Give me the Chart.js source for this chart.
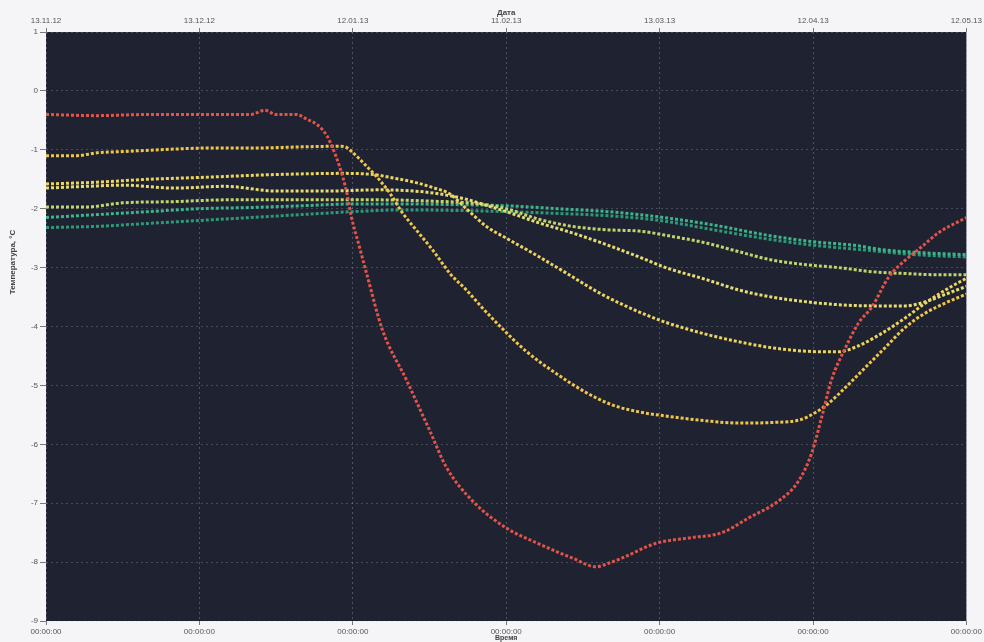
<!DOCTYPE html>
<html>
<head>
<meta charset="utf-8">
<title>Температура</title>
<script src="https://cdn.jsdelivr.net/npm/chart.js@4.4.1/dist/chart.umd.min.js"></script>
<style>
  html, body { margin: 0; padding: 0; background: #f5f5f7; }
  canvas { display: block; }
</style>
</head>
<body>
<canvas id="chart" width="984" height="642"></canvas>
<script>
// Tick labels (one every 30 days)
const dateTicks = ['13.11.12', '13.12.12', '12.01.13', '11.02.13', '13.03.13', '12.04.13', '12.05.13'];
const timeTicks = ['00:00:00', '00:00:00', '00:00:00', '00:00:00', '00:00:00', '00:00:00', '00:00:00'];

// Days since 13.11.12 and temperature readings, °C
const redDays = [0, 10, 20, 30, 40, 42.8, 45, 49, 51, 53, 55, 56, 57.4, 58.8, 59.7, 61.3, 62.7, 65.8, 70.5, 75, 78.3, 83.4, 90, 96.4, 102.9, 107.6, 110, 112.7, 119.3, 125.7, 132.2, 137.4, 143.3, 147.2, 149.7, 151.7, 153.6, 156.4, 158.9, 161.5, 164.8, 168.1, 171.2, 174.5, 180];
const redTemps = [-0.40, -0.42, -0.40, -0.40, -0.40, -0.33, -0.40, -0.40, -0.48, -0.57, -0.77, -0.96, -1.28, -1.72, -2.13, -2.65, -3.10, -4.06, -4.91, -5.76, -6.39, -6.96, -7.42, -7.69, -7.93, -8.08, -8.02, -7.93, -7.68, -7.59, -7.50, -7.25, -6.96, -6.62, -6.16, -5.54, -4.91, -4.35, -3.94, -3.67, -3.16, -2.87, -2.65, -2.41, -2.15];

const aDays = [0, 6, 10, 15, 22, 32, 40, 50, 57, 58.5, 59.9, 62.7, 64.6, 67.2, 69.7, 72.4, 75.6, 79.2, 82.2, 85.3, 88.6, 93.9, 99.8, 105.6, 110.7, 116, 121.2, 129, 135.5, 141.9, 147.2, 150.5, 153.1, 156.4, 160.3, 164.2, 168.1, 172, 175.9, 180];
const aTemps = [-1.10, -1.10, -1.05, -1.03, -1.00, -0.97, -0.97, -0.95, -0.94, -0.95, -1.04, -1.28, -1.45, -1.73, -2.07, -2.36, -2.70, -3.12, -3.38, -3.68, -3.98, -4.42, -4.80, -5.12, -5.33, -5.45, -5.52, -5.60, -5.64, -5.63, -5.59, -5.46, -5.30, -5.03, -4.69, -4.35, -4.01, -3.77, -3.60, -3.45];

const bDays = [0, 10, 20, 30, 45, 58, 64, 68, 72, 76, 79, 82.2, 86.1, 90, 95.1, 101.7, 108.2, 114.6, 121.2, 125.7, 129, 135.5, 141.9, 148.6, 155, 158.3, 162.8, 168.1, 172, 175.9, 180];
const bTemps = [-1.58, -1.55, -1.50, -1.47, -1.42, -1.40, -1.42, -1.48, -1.55, -1.65, -1.75, -2.00, -2.30, -2.50, -2.75, -3.09, -3.43, -3.70, -3.93, -4.05, -4.13, -4.26, -4.36, -4.42, -4.43, -4.35, -4.15, -3.85, -3.60, -3.38, -3.18];

const cDays = [0, 8, 15, 25, 35, 45, 55, 65, 72, 77, 82.2, 86.7, 90, 96.4, 102.9, 109.6, 116, 121.2, 129, 135.5, 141.9, 148.6, 155, 161.5, 168.1, 172, 176, 180];
const cTemps = [-1.65, -1.62, -1.60, -1.65, -1.62, -1.70, -1.70, -1.68, -1.70, -1.75, -1.84, -1.96, -2.05, -2.24, -2.41, -2.61, -2.82, -3.00, -3.20, -3.38, -3.50, -3.58, -3.63, -3.65, -3.65, -3.58, -3.45, -3.32];

const dDays = [0, 8, 15, 25, 35, 45, 55, 65, 75, 85, 90, 96.4, 102.9, 110, 116, 122.4, 129, 135.5, 141.9, 148.6, 155, 161.5, 168, 174, 180];
const dTemps = [-1.97, -1.97, -1.90, -1.88, -1.85, -1.85, -1.85, -1.85, -1.87, -1.92, -2.00, -2.18, -2.30, -2.36, -2.38, -2.47, -2.58, -2.73, -2.87, -2.95, -3.00, -3.07, -3.10, -3.12, -3.12];

const g1Days = [0, 10, 20, 30, 40, 50, 60, 70, 80, 90, 100, 110, 116, 125, 132, 141, 150, 158, 164, 172, 180];
const g1Temps = [-2.15, -2.10, -2.05, -2.00, -1.98, -1.95, -1.92, -1.92, -1.93, -1.95, -2.00, -2.05, -2.10, -2.20, -2.30, -2.45, -2.56, -2.62, -2.70, -2.75, -2.78];

const g2Days = [0, 10, 20, 30, 40, 50, 60, 70, 80, 90, 100, 110, 120, 130, 140, 150, 160, 170, 180];
const g2Temps = [-2.32, -2.30, -2.25, -2.20, -2.15, -2.10, -2.05, -2.02, -2.03, -2.05, -2.08, -2.12, -2.20, -2.35, -2.50, -2.62, -2.70, -2.78, -2.82];

function toPoints(days, temps) {
  return days.map((d, i) => ({ x: d, y: temps[i] }));
}

// dotted "logger" look: short dashes of thick line
function series(label, days, temps, color) {
  return {
    label,
    data: toPoints(days, temps),
    borderColor: color,
    borderWidth: 3,
    borderDash: [3, 2],
    pointRadius: 0,
    cubicInterpolationMode: 'monotone',
    fill: false
  };
}

// page + dark plot background, and the y title
const backdrop = {
  id: 'backdrop',
  beforeDraw(chart) {
    const { ctx, chartArea: a } = chart;
    ctx.save();
    ctx.fillStyle = '#f5f5f7';
    ctx.fillRect(0, 0, chart.width, chart.height);
    ctx.fillStyle = '#1f2230';
    ctx.fillRect(a.left, a.top, a.right - a.left, a.bottom - a.top);
    ctx.restore();
  },
  afterDraw(chart) {
    const ctx = chart.ctx;
    ctx.save();
    ctx.translate(13, 262);
    ctx.rotate(-Math.PI / 2);
    ctx.font = 'bold 8px "Liberation Sans", Arial, sans-serif';
    ctx.fillStyle = '#444';
    ctx.textAlign = 'center';
    ctx.textBaseline = 'middle';
    ctx.fillText('Температура, °C', 0, 0);
    ctx.restore();
  }
};

const tickFont = { family: '"Liberation Sans", Arial, sans-serif', size: 8 };
const titleFont = { family: '"Liberation Sans", Arial, sans-serif', size: 8, weight: 'bold' };

new Chart(document.getElementById('chart'), {
  type: 'line',
  data: {
    datasets: [
      series('red', redDays, redTemps, '#e2544a'),
      series('a', aDays, aTemps, '#f0c64a'),
      series('b', bDays, bTemps, '#ecd45e'),
      series('c', cDays, cTemps, '#e6dc72'),
      series('d', dDays, dTemps, '#c4d46c'),
      series('g1', g1Days, g1Temps, '#3db48a'),
      series('g2', g2Days, g2Temps, '#2c9a78')
    ]
  },
  options: {
    responsive: false,
    animation: false,
    layout: { padding: { left: 0, right: 16, top: 0, bottom: 0 } },
    plugins: {
      legend: { display: false },
      tooltip: { enabled: false }
    },
    scales: {
      x: {
        type: 'linear',
        position: 'bottom',
        min: 0,
        max: 180,
        afterFit: (scale) => { scale.height = 21; },
        ticks: {
          stepSize: 30,
          maxRotation: 0,
          padding: 2,
          color: '#555',
          font: tickFont,
          callback: (value) => timeTicks[Math.round(value / 30)]
        },
        grid: {
          color: 'rgba(190, 196, 212, 0.3)',
          tickColor: '#777',
          tickLength: 4,
          lineWidth: 1
        },
        border: { display: false, dash: [2, 3] },
        title: { display: true, text: 'Время', color: '#444', font: { ...titleFont, size: 7 }, padding: 0 }
      },
      x2: {
        type: 'linear',
        position: 'top',
        min: 0,
        max: 180,
        afterFit: (scale) => { scale.height = 32; },
        ticks: {
          stepSize: 30,
          maxRotation: 0,
          padding: 2,
          color: '#555',
          font: tickFont,
          callback: (value) => dateTicks[Math.round(value / 30)]
        },
        grid: { drawOnChartArea: false, tickColor: '#777', tickLength: 4 },
        border: { display: false },
        title: { display: true, text: 'Дата', color: '#444', font: titleFont, padding: { top: 8, bottom: 0 } }
      },
      y: {
        min: -9,
        max: 1,
        afterFit: (scale) => { scale.width = 46; },
        ticks: {
          stepSize: 1,
          padding: 2,
          color: '#555',
          font: tickFont
        },
        grid: {
          color: 'rgba(190, 196, 212, 0.25)',
          tickColor: '#777',
          tickLength: 6
        },
        border: { display: false, dash: [2, 3] }
      }
    }
  },
  plugins: [backdrop]
});
</script>
</body>
</html>
